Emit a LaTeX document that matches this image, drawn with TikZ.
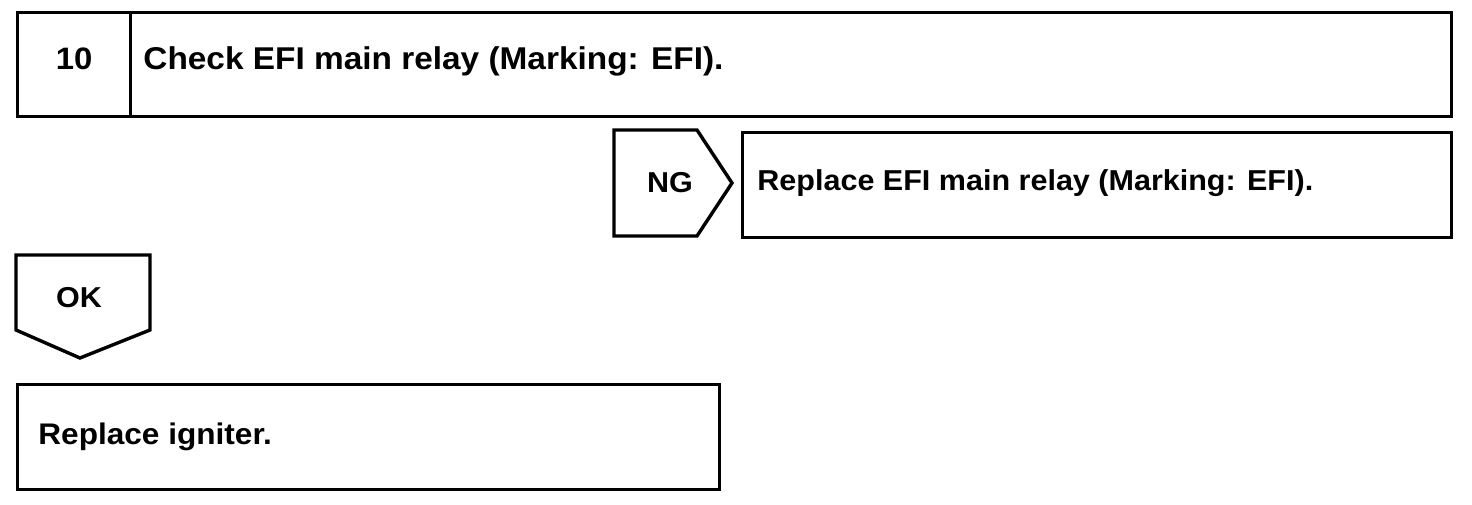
\documentclass[tikz,border=0pt]{standalone}
\usepackage{fontspec}
\setmainfont[FakeStretch=1.06]{Liberation Sans}
\usetikzlibrary{positioning}

\begin{document}
\begin{tikzpicture}[x=0.5pt, y=-0.5pt, every node/.style={font=\bfseries\fontsize{15.5}{18}\selectfont}]
    \tikzstyle{frame} = [draw, rectangle, line width=1.7pt, inner sep=0pt, anchor=north west]
    \tikzstyle{txt} = [inner sep=0pt, anchor=base west]
    \tikzstyle{small} = [font=\bfseries\fontsize{14.4}{17}\selectfont]
    \tikzstyle{outline} = [line width=1.7pt, line join=miter]

    \useasboundingbox (0,0) rectangle (1472,504);

    % Step 10
    \node (num) [frame, minimum width=56.5pt, minimum height=52pt] at (16,11) {};
    \node (check) [frame, minimum width=660.5pt, minimum height=52pt] at (129,11) {};
    \node (numtxt) [txt, anchor=base] at ([yshift=-2.5pt]num.center) {10};
    \node (checktxt) [txt, font=\bfseries\fontsize{15.75}{18}\selectfont] at ([shift={(7pt,-2.5pt)}]check.west) {Check EFI main relay (Marking: EFI).};

    % NG branch
    \draw [outline] (614,130) -- (697,130) -- (732,183) -- (697,236) -- (614,236) -- cycle;
    \node (ng) [txt, small, anchor=base] at (670,192) {NG};
    \node (relay) [frame, minimum width=354.5pt, minimum height=52.5pt] at (741,131) {};
    \node (relaytxt) [txt, small] at ([shift={(8pt,-2.75pt)}]relay.west) {Replace EFI main relay (Marking: EFI).};

    % OK branch
    \draw [outline] (16,255) -- (150,255) -- (150,330) -- (80,358) -- (16,330) -- cycle;
    \node (ok) [txt, small, anchor=base] at (79,307) {OK};
    \node (igniter) [frame, minimum width=351pt, minimum height=52.5pt] at (16,383) {};
    \node (ignitertxt) [txt, font=\bfseries\fontsize{14.9}{17}\selectfont] at ([shift={(11pt,-3.75pt)}]igniter.west) {Replace igniter.};
\end{tikzpicture}
\end{document}
